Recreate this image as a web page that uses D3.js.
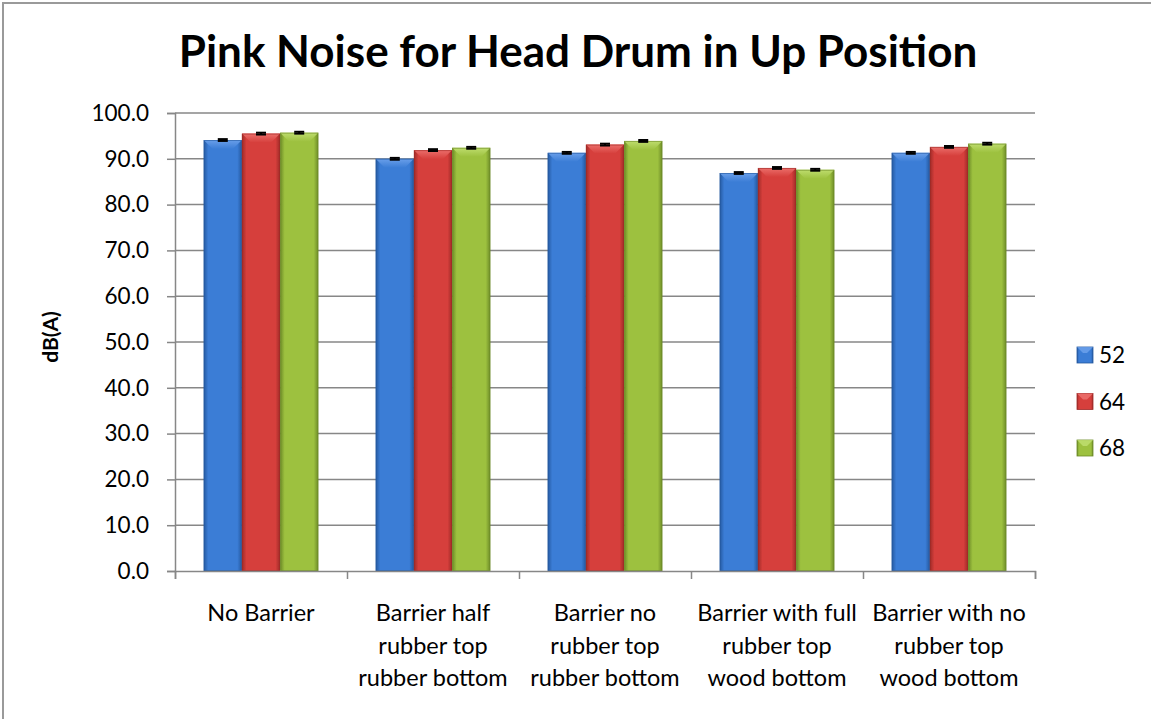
<!DOCTYPE html>
<html><head><meta charset="utf-8">
<script src="https://cdn.jsdelivr.net/npm/d3@7"></script>
<style>body{margin:0;background:#fff;} svg{display:block;font-family:Lato, "Open Sans", sans-serif;}</style>
</head><body>
<svg id="c" width="1151" height="719"></svg>
<script>
const categories = [
  ["No Barrier"],
  ["Barrier half", "rubber top", "rubber bottom"],
  ["Barrier no", "rubber top", "rubber bottom"],
  ["Barrier with full", "rubber top", "wood bottom"],
  ["Barrier with no", "rubber top", "wood bottom"]
];
const seriesNames = ["52", "64", "68"];
const values52 = [94.1, 90.0, 91.3, 86.9, 91.3];
const values64 = [95.5, 91.9, 93.1, 88.0, 92.6];
const values68 = [95.7, 92.4, 93.9, 87.6, 93.3];
const errors52 = [0.2, 0.2, 0.2, 0.2, 0.2];
const errors64 = [0.2, 0.2, 0.2, 0.2, 0.2];
const errors68 = [0.2, 0.2, 0.2, 0.2, 0.2];
const yTicks = [0,10,20,30,40,50,60,70,80,90,100];
const title = "Pink Noise for Head Drum in Up Position";
const yLabel = "dB(A)";

(function(){
const seriesVals = [values52, values64, values68];
const seriesErr = [errors52, errors64, errors68];
const colors = [
  {base:"#3B7DD6", light:"#6FA3EC", dark:"#24589F"},
  {base:"#D63F3C", light:"#EE7470", dark:"#9E2A27"},
  {base:"#9DC13F", light:"#C2E073", dark:"#6C8A27"}
];

const svg = d3.select("#c");
const defs = svg.append("defs");
colors.forEach((c,i)=>{
  const g = defs.append("linearGradient").attr("id","g"+i).attr("x1","0").attr("x2","1").attr("y1","0").attr("y2","0");
  [[0,c.dark],[0.12,c.base],[0.5,c.base],[0.88,c.base],[1,c.dark]].forEach(s=>g.append("stop").attr("offset",s[0]).attr("stop-color",s[1]));
  const t = defs.append("linearGradient").attr("id","t"+i).attr("x1","0").attr("x2","0").attr("y1","0").attr("y2","1");
  [[0,c.light],[1,c.base]].forEach(s=>t.append("stop").attr("offset",s[0]).attr("stop-color",s[1]));
});

// outer border
svg.append("rect").attr("x",3).attr("y",3).attr("width",1160).attr("height",730)
  .attr("fill","none").attr("stroke","#9a9a9a").attr("stroke-width",2);

const pl = 175, pr = 1035, pt = 113, pb = 571;
const x = d3.scaleBand().domain(d3.range(categories.length)).range([pl,pr]).paddingInner(0).paddingOuter(0);
const y = d3.scaleLinear().domain([0,100]).range([pb,pt]);
const bw = x.bandwidth()/(3+1.5);
const xs = d3.scaleBand().domain(d3.range(3)).range([bw*0.75, bw*0.75+bw*3]);

// gridlines
svg.append("g").selectAll("line").data(yTicks.filter(t=>t>0)).join("line")
  .attr("x1",pl).attr("x2",pr).attr("y1",d=>y(d)).attr("y2",d=>y(d))
  .attr("stroke","#878787").attr("stroke-width",1.5);

// y axis
const yAxis = d3.axisLeft(y).tickValues(yTicks).tickFormat(d3.format(".1f")).tickSize(8).tickPadding(18);
const ya = svg.append("g").attr("transform",`translate(${pl},0)`).call(yAxis);
ya.select(".domain").attr("stroke","#878787").attr("stroke-width",1.5);
ya.selectAll(".tick line").attr("stroke","#878787").attr("stroke-width",1.5);
ya.selectAll("text").attr("font-size",22.5).attr("fill","#000").attr("font-family","Lato");

// bars
const groups = svg.append("g");
seriesVals.forEach((vals,si)=>{
  const g = groups.append("g");
  vals.forEach((v,ci)=>{
    const bx = x(ci)+xs(si), by = y(v), h = pb-by, w = xs.bandwidth();
    g.append("rect").attr("x",bx).attr("y",by).attr("width",w).attr("height",h).attr("fill",`url(#g${si})`);
    const bev = 9;
    g.append("path").attr("d",`M${bx},${by} L${bx+w},${by} L${bx+w-bev},${by+bev} L${bx+bev},${by+bev} Z`).attr("fill",`url(#t${si})`).attr("opacity",0.9);
    g.append("rect").attr("x",bx+0.5).attr("y",by+0.5).attr("width",w-1).attr("height",h-1).attr("fill","none").attr("stroke",colors[si].dark).attr("stroke-width",1).attr("opacity",0.6);
    const e = seriesErr[si][ci], cx = bx + w/2;
    g.append("line").attr("x1",cx).attr("x2",cx).attr("y1",y(v-e)).attr("y2",y(v+e)).attr("stroke","#000").attr("stroke-width",2);
    [v-e, v+e].forEach(yy=>g.append("line").attr("x1",cx-5).attr("x2",cx+5).attr("y1",y(yy)).attr("y2",y(yy)).attr("stroke","#000").attr("stroke-width",2));
  });
});

// x axis
const xAxis = d3.axisBottom(d3.scaleLinear().domain([0,categories.length]).range([pl,pr]))
  .tickValues(d3.range(categories.length+1)).tickFormat("").tickSize(8);
const xa = svg.append("g").attr("transform",`translate(0,${pb})`).call(xAxis);
xa.select(".domain").attr("stroke","#878787").attr("stroke-width",1.5);
xa.selectAll(".tick line").attr("stroke","#878787").attr("stroke-width",1.5);

// category labels
categories.forEach((lines,ci)=>{
  const t = svg.append("text").attr("text-anchor","middle").attr("font-size",23.5).attr("fill","#000")
    .attr("x",x(ci)+x.bandwidth()/2).attr("y",621);
  lines.forEach((ln,li)=>t.append("tspan").attr("x",x(ci)+x.bandwidth()/2).attr("dy",li===0?0:32.5).text(ln));
});

// title
svg.append("text").attr("x",578).attr("y",67).attr("text-anchor","middle").attr("font-size",44).attr("font-weight","bold").attr("fill","#000").text(title);

// y label
svg.append("text").attr("transform","translate(58,337) rotate(-90)").attr("text-anchor","middle").attr("font-size",21).attr("font-weight","bold").attr("fill","#000").text(yLabel);

// legend
seriesNames.forEach((n,i)=>{
  const ly = 355 + i*46.5;
  svg.append("rect").attr("x",1077).attr("y",ly-8).attr("width",16).attr("height",16).attr("fill",`url(#g${i})`).attr("stroke",colors[i].dark).attr("stroke-width",0.8);
  svg.append("path").attr("d",`M1077,${ly-8} L1093,${ly-8} L1087,${ly-2} L1083,${ly-2} Z`).attr("fill",colors[i].light).attr("opacity",0.8);
  svg.append("text").attr("x",1099).attr("y",ly+8).attr("font-size",22.5).attr("fill","#000").text(n);
});
})();
</script>
</body></html>
